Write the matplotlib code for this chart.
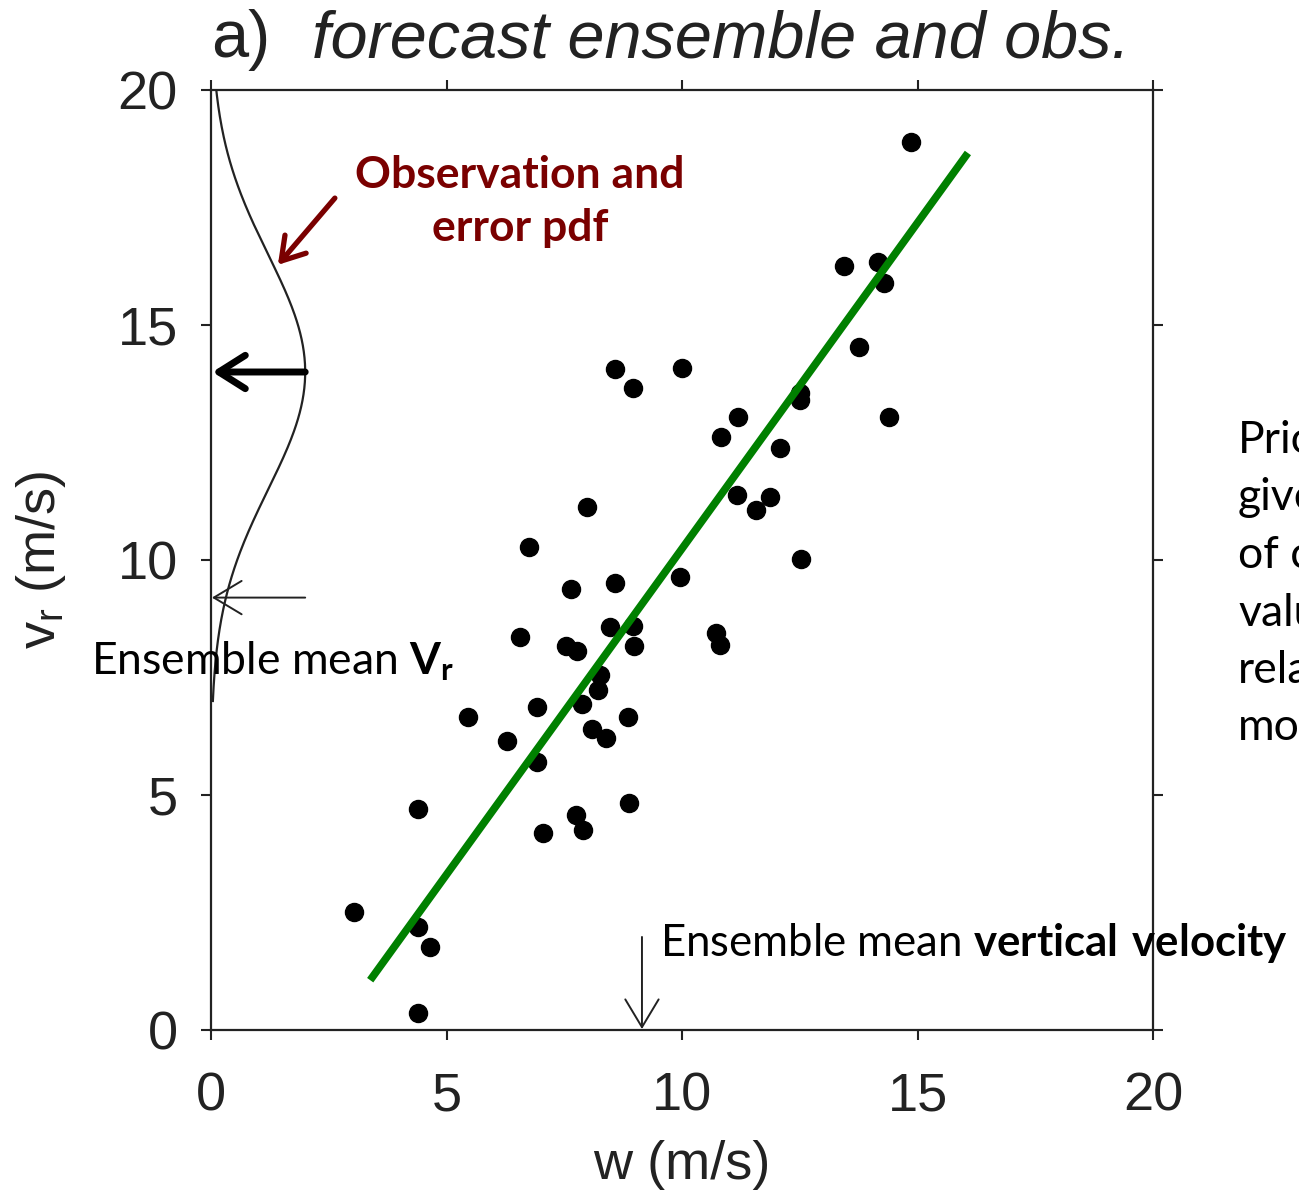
import matplotlib
matplotlib.use("Agg")
import matplotlib.pyplot as plt
import numpy as np

# ensemble members (w, v_r) in m/s
w_members = [14.86, 13.44, 14.16, 14.29, 13.76, 14.39, 12.51, 12.51, 11.19, 10.83,
             12.08, 8.58, 8.96, 10.0, 11.17, 11.87, 11.57, 7.98, 6.75, 9.96,
             7.64, 8.58, 8.47, 8.96, 8.98, 6.56, 7.54, 7.77, 8.26, 8.22,
             7.88, 6.92, 5.46, 8.85, 8.09, 8.39, 6.28, 6.92, 4.39, 8.87,
             7.75, 7.90, 7.05, 10.72, 10.81, 12.53, 3.04, 4.39, 4.65, 4.39]
vr_members = [18.89, 16.26, 16.34, 15.89, 14.53, 13.04, 13.55, 13.40, 13.04, 12.62,
              12.38, 14.06, 13.66, 14.09, 11.38, 11.34, 11.06, 11.13, 10.28, 9.64,
              9.38, 9.51, 8.57, 8.60, 8.17, 8.36, 8.17, 8.06, 7.55, 7.23,
              6.94, 6.87, 6.66, 6.66, 6.40, 6.21, 6.15, 5.70, 4.70, 4.83,
              4.57, 4.26, 4.19, 8.45, 8.19, 10.02, 2.51, 2.19, 1.77, 0.36]

# regression line end points
fit_w = [3.38, 16.07]
fit_vr = [1.06, 18.66]

# observation and its error pdf
obs_vr = 14.0
obs_sigma = 2.5
pdf_peak = 2.0

mean_vr = 9.2
mean_w = 9.15

ticks = [0, 5, 10, 15, 20]

# side note, cut off at the slide edge in the original
side_note = ["Prio", "give", "of c", "valu", "rela", "mo"]

plt.rcParams["mathtext.fontset"] = "custom"
plt.rcParams["mathtext.rm"] = "Lato"
plt.rcParams["mathtext.bf"] = "Lato:bold"

AXFONT = "Liberation Sans"
NOTEFONT = "Lato"
DARKRED = "#7a0000"
INK = "#222222"

fig = plt.figure(figsize=(12.99, 11.92), dpi=100)
ax = fig.add_axes([211 / 1299, 1 - 1030 / 1192, 942 / 1299, 940 / 1192])

ax.plot(w_members, vr_members, "o", color="black", markersize=13, zorder=3)
ax.plot(fit_w, fit_vr, color="#008000", lw=5.5, solid_capstyle="butt", zorder=4)

yy = np.linspace(7.0, 20.0, 300)
ax.plot(pdf_peak * np.exp(-(yy - obs_vr) ** 2 / (2 * obs_sigma ** 2)), yy,
        color=INK, lw=1.6, zorder=2)

ax.annotate("", xy=(0.03, obs_vr), xytext=(pdf_peak, obs_vr),
            arrowprops=dict(arrowstyle="->,head_length=1.9,head_width=1.2",
                            lw=5, color="black", shrinkA=0, shrinkB=0))
ax.annotate("", xy=(0.02, mean_vr), xytext=(pdf_peak, mean_vr),
            arrowprops=dict(arrowstyle="->,head_length=2.0,head_width=1.2",
                            lw=1.4, color=INK, shrinkA=0, shrinkB=0))
ax.annotate("", xy=(mean_w, 0.02), xytext=(mean_w, 1.98),
            arrowprops=dict(arrowstyle="->,head_length=2.0,head_width=1.2",
                            lw=1.4, color=INK, shrinkA=0, shrinkB=0))
ax.annotate("", xy=(1.42, 16.28), xytext=(2.63, 17.7),
            arrowprops=dict(arrowstyle="->,head_length=1.6,head_width=1.0",
                            lw=3.8, color=DARKRED, shrinkA=0, shrinkB=0))

ax.text(6.56, 17.62, "Observation and\nerror pdf", color=DARKRED, fontsize=32,
        fontweight="bold", family=NOTEFONT, ha="center", va="center",
        linespacing=1.4)
ax.text(-2.55, 7.85, "Ensemble mean $\\mathbf{V_r}$", fontsize=32,
        family=NOTEFONT, ha="left", va="center", clip_on=False)
ax.text(9.53, 1.85, "Ensemble mean $\\mathbf{vertical\\ velocity}$", fontsize=31.5,
        family=NOTEFONT, ha="left", va="center", clip_on=False)

fig.text(1238 / 1299, 1 - 420 / 1192, "\n".join(side_note),
         fontsize=32, family=NOTEFONT, ha="left", va="top", linespacing=1.5)

ax.set_xlim(0, 20)
ax.set_ylim(0, 20)
ax.set_xticks(ticks)
ax.set_yticks(ticks)
ax.tick_params(which="both", direction="out", length=7, width=1.5,
               top=True, right=True, labelsize=39, colors=INK)
ax.tick_params(axis="x", pad=23)
ax.tick_params(axis="y", pad=17)
for lab in ax.get_xticklabels() + ax.get_yticklabels():
    lab.set_family(AXFONT)
for sp in ax.spines.values():
    sp.set_linewidth(1.6)
    sp.set_color(INK)

ax.set_xlabel("w (m/s)", fontsize=39, family=AXFONT, color=INK)
ax.set_ylabel("$\\mathregular{v_r}$ (m/s)", fontsize=39, family=AXFONT, color=INK)
ax.xaxis.set_label_coords(0.5, (1030 - 1140) / 940)
ax.yaxis.set_label_coords((68 - 211) / 942, 0.5)

fig.text(211 / 1299, 1 - 40 / 1192, "a)", fontsize=48, family=AXFONT,
         color=INK, ha="left", va="center")
fig.text(312 / 1299, 1 - 40 / 1192, "forecast ensemble and obs.", fontsize=48,
         family=AXFONT, style="italic", color=INK, ha="left", va="center")

fig.savefig("out.png", dpi=100)
